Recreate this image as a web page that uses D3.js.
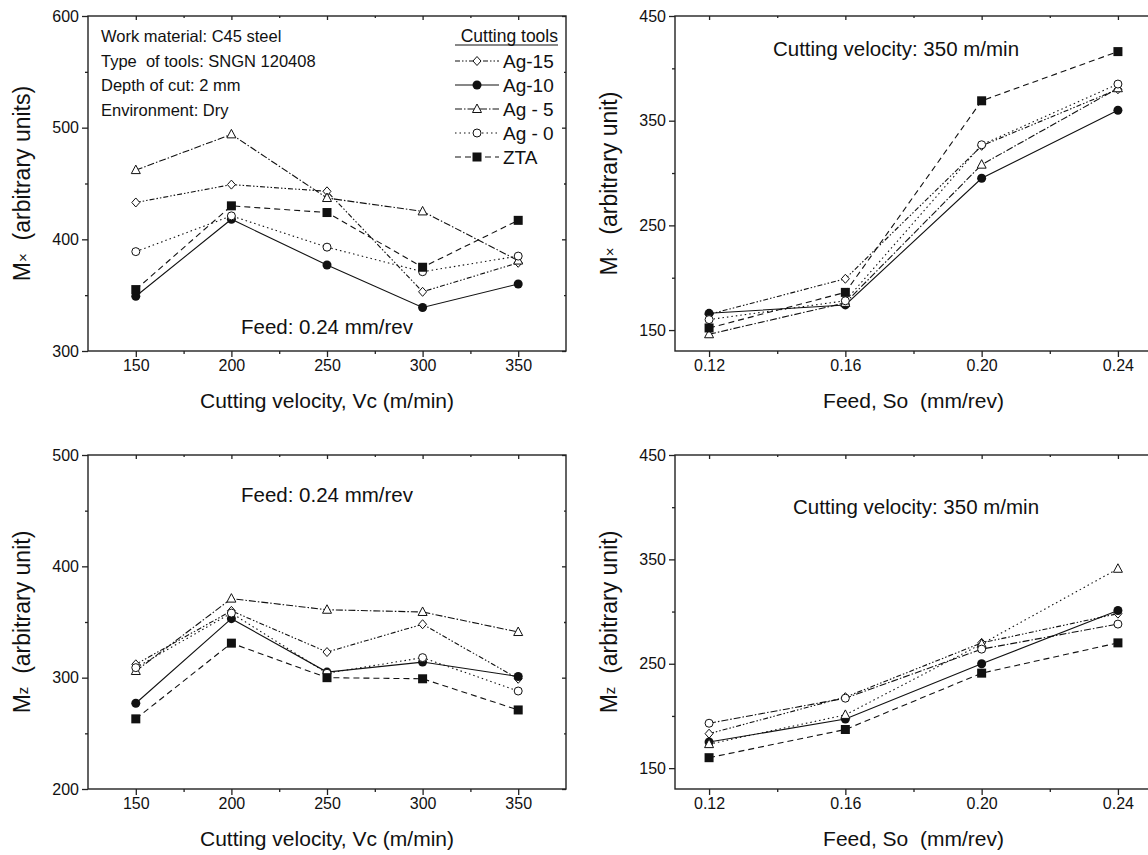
<!DOCTYPE html>
<html>
<head>
<meta charset="utf-8">
<script src="https://cdn.jsdelivr.net/npm/d3@7"></script>
<style>
body { margin: 0; background: #fff; }
text { font-family: "Liberation Sans", Arial, sans-serif; fill: #111; }
</style>
</head>
<body>
<div id="chart"></div>
<script>
const velocity = [150, 200, 250, 300, 350];
const feed = [0.12, 0.16, 0.20, 0.24];
const tools = ["Ag-15", "Ag-10", "Ag - 5", "Ag - 0", "ZTA"];

// one row per tool, same order as `tools`
const mxVelocity = [
  [433, 449, 443, 353, 379],
  [349, 418, 377, 339, 360],
  [462, 494, 437, 425, 381],
  [389, 421, 393, 371, 385],
  [355, 430, 424, 375, 417]
];
const mxFeed = [
  [165, 199, 326, 380],
  [166, 174, 295, 360],
  [146, 176, 308, 381],
  [160, 178, 327, 385],
  [152, 186, 369, 416]
];
const mzVelocity = [
  [312, 360, 323, 348, 299],
  [277, 353, 305, 314, 301],
  [306, 371, 361, 359, 341],
  [309, 358, 304, 318, 288],
  [263, 331, 300, 299, 271]
];
const mzFeed = [
  [183, 218, 270, 298],
  [175, 197, 250, 301],
  [173, 201, 269, 341],
  [193, 217, 264, 288],
  [160, 187, 241, 270]
];

const vcTicks = [150, 200, 250, 300, 350];
const feedTicks = [0.12, 0.16, 0.20, 0.24];
const mxVcTicks = [300, 400, 500, 600];
const mzVcTicks = [200, 300, 400, 500];
const feedYTicks = [150, 250, 350, 450];
const notes = ["Work material: C45 steel", "Type  of tools: SNGN 120408", "Depth of cut: 2 mm", "Environment: Dry"];

const width = 1148, height = 855;

// line + marker look for each tool
const dashes = ["5,2,1.5,2,1.5,2", null, "7,2,1.5,2", "1.5,3", "6,4"];
const markers = ["diamond", "circleFill", "triangle", "circle", "square"];

const svg = d3.select("#chart")
  .append("svg")
  .attr("width", width)
  .attr("height", height);

function drawMarker(g, type, cx, cy) {
  if (type == "diamond") {
    g.append("path").attr("d", `M${cx},${cy-4.5}L${cx+4},${cy}L${cx},${cy+4.5}L${cx-4},${cy}Z`)
      .attr("fill", "#fff").attr("stroke", "#111").attr("stroke-width", 1);
  } else if (type == "circleFill") {
    g.append("circle").attr("cx", cx).attr("cy", cy).attr("r", 4.5).attr("fill", "#111");
  } else if (type == "triangle") {
    g.append("path").attr("d", `M${cx},${cy-5}L${cx+4.5},${cy+3.5}L${cx-4.5},${cy+3.5}Z`)
      .attr("fill", "#fff").attr("stroke", "#111").attr("stroke-width", 1);
  } else if (type == "circle") {
    g.append("circle").attr("cx", cx).attr("cy", cy).attr("r", 4)
      .attr("fill", "#fff").attr("stroke", "#111").attr("stroke-width", 1);
  } else {
    g.append("rect").attr("x", cx - 4.5).attr("y", cy - 4.5).attr("width", 9).attr("height", 9).attr("fill", "#111");
  }
}

function mids(t) {
  return t.slice(1).map((v, i) => (v + t[i]) / 2);
}

function panel(p) {
  const g = svg.append("g");
  const x = d3.scaleLinear().domain(p.xDomain).range([p.left, p.right]);
  const y = d3.scaleLinear().domain(p.yDomain).range([p.bottom, p.top]);

  // frame
  g.append("rect")
    .attr("x", p.left).attr("y", p.top)
    .attr("width", p.right - p.left).attr("height", p.bottom - p.top)
    .attr("fill", "none").attr("stroke", "#222").attr("stroke-width", 1.4);

  const xMinor = mids(p.xTicks), yMinor = mids(p.yTicks);

  const axes = [
    [d3.axisBottom(x).tickValues(p.xTicks).tickSize(6).tickFormat(p.xFmt), `translate(0,${p.bottom})`, true],
    [d3.axisBottom(x).tickValues(xMinor).tickSize(3).tickFormat(""), `translate(0,${p.bottom})`, false],
    [d3.axisLeft(y).tickValues(p.yTicks).tickSize(6).tickFormat(d3.format("d")), `translate(${p.left},0)`, true],
    [d3.axisLeft(y).tickValues(yMinor).tickSize(3).tickFormat(""), `translate(${p.left},0)`, false],
    [d3.axisTop(x).tickValues(p.xTicks).tickSize(-4).tickFormat(""), `translate(0,${p.top})`, false],
    [d3.axisTop(x).tickValues(xMinor).tickSize(-2).tickFormat(""), `translate(0,${p.top})`, false],
    [d3.axisRight(y).tickValues(p.yTicks).tickSize(-4).tickFormat(""), `translate(${p.right},0)`, false],
    [d3.axisRight(y).tickValues(yMinor).tickSize(-2).tickFormat(""), `translate(${p.right},0)`, false]
  ];
  axes.forEach(([ax, tr, labels]) => {
    const a = g.append("g").attr("transform", tr).call(ax.tickSizeOuter(0).tickPadding(3));
    a.select(".domain").remove();
    a.selectAll("line").attr("stroke", "#222").attr("stroke-width", 1.3);
    if (labels) a.selectAll("text").attr("font-size", 16).attr("font-family", "Liberation Sans, Arial, sans-serif").attr("fill", "#111");
  });

  // axis titles
  g.append("text")
    .attr("x", (p.left + p.right0) / 2).attr("y", p.bottom + 57)
    .attr("text-anchor", "middle").attr("font-size", 21)
    .style("white-space", "pre")
    .text(p.xTitle);

  const yt = g.append("text")
    .attr("transform", `translate(${p.left - 58},${(p.top + p.bottom) / 2}) rotate(-90)`)
    .attr("text-anchor", "middle").attr("font-size", 23)
    .style("white-space", "pre");
  yt.append("tspan").text("M");
  yt.append("tspan").attr("font-size", 15).attr("dy", -2).text(p.ySub);
  yt.append("tspan").attr("dy", 2).text("  " + p.yTitle);

  // series
  const dash = p.dashes || dashes;
  const line = d3.line().x(d => x(d[0])).y(d => y(d[1]));
  p.values.forEach((vals, i) => {
    const pts = p.xs.map((xv, j) => [xv, vals[j]]);
    g.append("path")
      .attr("d", line(pts))
      .attr("fill", "none").attr("stroke", "#111").attr("stroke-width", 1.1)
      .attr("stroke-dasharray", dash[i]);
  });
  p.values.forEach((vals, i) => {
    p.xs.forEach((xv, j) => drawMarker(g, markers[i], x(xv), y(vals[j])));
  });

  g.append("text")
    .attr("x", p.noteX).attr("y", p.noteY)
    .attr("text-anchor", "middle").attr("font-size", 20.5)
    .text(p.note);

  return g;
}

const leftBox = { left: 88, right: 566, right0: 566, xDomain: [125, 375], xTicks: vcTicks, xs: velocity, xFmt: d3.format("d"), xTitle: "Cutting velocity, Vc (m/min)" };
const rightBox = { left: 675, right: 1152, right0: 1152, xDomain: [0.11, 0.25], xTicks: feedTicks, xs: feed, xFmt: d3.format(".2f"), xTitle: "Feed, So  (mm/rev)" };

const p1 = panel(Object.assign({}, leftBox, {
  top: 16, bottom: 351, yDomain: [300, 600], yTicks: mxVcTicks,
  ySub: "×", yTitle: "(arbitrary units)", values: mxVelocity,
  note: "Feed: 0.24 mm/rev", noteX: 327, noteY: 334
}));
panel(Object.assign({}, rightBox, {
  top: 16, bottom: 351, yDomain: [130, 450], yTicks: feedYTicks,
  ySub: "×", yTitle: "(arbitrary unit)", values: mxFeed,
  note: "Cutting velocity: 350 m/min", noteX: 896, noteY: 56
}));
panel(Object.assign({}, leftBox, {
  top: 455, bottom: 789, yDomain: [200, 500], yTicks: mzVcTicks,
  ySub: "z", yTitle: "(arbitrary unit)", values: mzVelocity,
  note: "Feed: 0.24 mm/rev", noteX: 327, noteY: 502
}));
// in the source figure Ag - 5 and Ag - 0 swap line styles on this panel
panel(Object.assign({}, rightBox, {
  top: 455, bottom: 789, yDomain: [130, 450], yTicks: feedYTicks,
  ySub: "z", yTitle: "(arbitrary unit)", values: mzFeed,
  dashes: [dashes[0], dashes[1], dashes[3], dashes[2], dashes[4]],
  note: "Cutting velocity: 350 m/min", noteX: 916, noteY: 514
}));

// notes block, top-left panel
p1.selectAll(".note")
  .data(notes)
  .join("text")
  .attr("class", "note")
  .attr("x", 101)
  .attr("y", (d, i) => 42 + i * 24.5)
  .attr("font-size", 16.5)
  .style("white-space", "pre")
  .text(d => d);

// legend
const lg = p1.append("g");
lg.append("text")
  .attr("x", 558).attr("y", 42)
  .attr("text-anchor", "end").attr("font-size", 17.5)
  .text("Cutting tools");
lg.append("line")
  .attr("x1", 455).attr("x2", 558).attr("y1", 45).attr("y2", 45)
  .attr("stroke", "#111").attr("stroke-width", 1);
tools.forEach((t, i) => {
  const cy = 61 + i * 24;
  lg.append("line")
    .attr("x1", 455).attr("x2", 499).attr("y1", cy).attr("y2", cy)
    .attr("stroke", "#111").attr("stroke-width", 1.1)
    .attr("stroke-dasharray", dashes[i]);
  drawMarker(lg, markers[i], 477, cy);
  lg.append("text")
    .attr("x", 503).attr("y", cy + 6.5)
    .attr("font-size", 19)
    .style("white-space", "pre")
    .text(t);
});
</script>
</body>
</html>
